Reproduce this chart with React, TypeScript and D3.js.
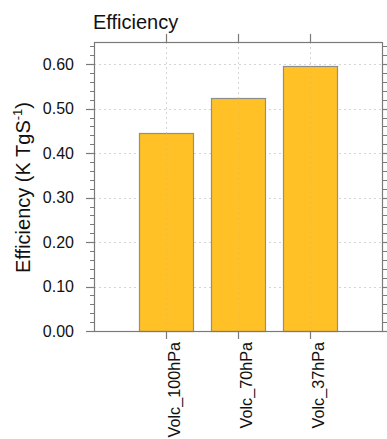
import React from "react";
import * as d3 from "d3";

// chart values
const categories = ["Volc_100hPa", "Volc_70hPa", "Volc_37hPa"];
const efficiency = [0.445, 0.525, 0.595];
const yMajorTicks = [0, 0.1, 0.2, 0.3, 0.4, 0.5, 0.6];
const yMinorTicks = d3.range(0, 33).map((i) => i * 0.02).filter((v) => v <= 0.65);

const W = 387;
const H = 439;
const left = 94;
const right = 382;
const top = 42;
const bottom = 331;

const frameColor = "#7a7a7a";
const gridColor = "#d4d4d4";
const barFill = "#ffc125";
const barStroke = "#8e8e8e";
const font = "'Liberation Sans', Arial, Helvetica, sans-serif";

export default function App() {
  const x = d3.scaleLinear().domain([0, categories.length + 1]).range([left, right]);
  const y = d3.scaleLinear().domain([0, 0.65]).range([bottom, top]);
  const barW = (x(1) - x(0)) * 0.75;
  const fmt = d3.format(".2f");

  return (
    <svg
      width={W}
      height={H}
      style={{ position: "absolute", left: 0, top: 0, background: "#fff" }}
      fontFamily={font}
    >
      {/* grid */}
      {yMajorTicks.slice(1).map((t) => (
        <line key={"gy" + t} x1={left} x2={right} y1={Math.round(y(t)) + 0.5} y2={Math.round(y(t)) + 0.5}
          stroke={gridColor} strokeDasharray="2,3" />
      ))}
      {categories.map((c, i) => (
        <line key={"gx" + c} x1={Math.round(x(i + 1)) + 0.5} x2={Math.round(x(i + 1)) + 0.5} y1={top} y2={bottom}
          stroke={gridColor} strokeDasharray="2,3" />
      ))}

      {/* bars */}
      {efficiency.map((v, i) => (
        <rect key={"b" + i} x={Math.round(x(i + 1) - barW / 2) + 0.5} y={Math.round(y(v)) + 0.5}
          width={Math.round(barW)} height={Math.round(y(0)) - Math.round(y(v))}
          fill={barFill} stroke={barStroke} strokeWidth={1.2} />
      ))}
      {/* grid over bars (dotted lines visible through) */}
      {categories.map((c, i) => (
        <line key={"gx2" + c} x1={Math.round(x(i + 1)) + 0.5} x2={Math.round(x(i + 1)) + 0.5} y1={y(efficiency[i])} y2={bottom}
          stroke="#e8b84a" strokeDasharray="2,3" strokeOpacity={0.6} />
      ))}

      {/* frame */}
      <rect x={left + 0.5} y={top + 0.5} width={right - left} height={bottom - top}
        fill="none" stroke={frameColor} strokeWidth={1.2} />

      {/* y ticks, both sides, outward */}
      {yMinorTicks.map((t) => (
        <g key={"ym" + t} stroke={frameColor}>
          <line x1={left - 4} x2={left} y1={Math.round(y(t)) + 0.5} y2={Math.round(y(t)) + 0.5} />
          <line x1={right} x2={right + 5} y1={Math.round(y(t)) + 0.5} y2={Math.round(y(t)) + 0.5} />
        </g>
      ))}
      {yMajorTicks.map((t) => (
        <g key={"yM" + t}>
          <line x1={left - 8} x2={left} y1={Math.round(y(t)) + 0.5} y2={Math.round(y(t)) + 0.5} stroke={frameColor} strokeWidth={1.2} />
          <line x1={right} x2={right + 8} y1={Math.round(y(t)) + 0.5} y2={Math.round(y(t)) + 0.5} stroke={frameColor} strokeWidth={1.2} />
          <text x={74} y={y(t)} dy="0.36em" textAnchor="end" fontSize={16} fill="#111">{fmt(t)}</text>
        </g>
      ))}

      {/* x ticks top and bottom */}
      {categories.map((c, i) => (
        <g key={"xt" + c}>
          <line x1={Math.round(x(i + 1)) + 0.5} x2={Math.round(x(i + 1)) + 0.5} y1={top - 8} y2={top} stroke={frameColor} strokeWidth={1.2} />
          <line x1={Math.round(x(i + 1)) + 0.5} x2={Math.round(x(i + 1)) + 0.5} y1={bottom} y2={bottom + 8} stroke={frameColor} strokeWidth={1.2} />
          <text transform={`translate(${x(i + 1) + 14},${bottom + 11}) rotate(-90)`} textAnchor="end"
            fontSize={16.2} fill="#111">{c}</text>
        </g>
      ))}

      {/* title */}
      <text x={93} y={29} fontSize={20} fill="#111">Efficiency</text>

      {/* y-axis label */}
      <text transform={`translate(30,${(top + bottom) / 2 + 1}) rotate(-90)`} textAnchor="middle" fontSize={20} fill="#111">
        Efficiency (K TgS<tspan fontSize={13} dy={-8}>-1</tspan><tspan dy={8}>)</tspan>
      </text>
    </svg>
  );
}
